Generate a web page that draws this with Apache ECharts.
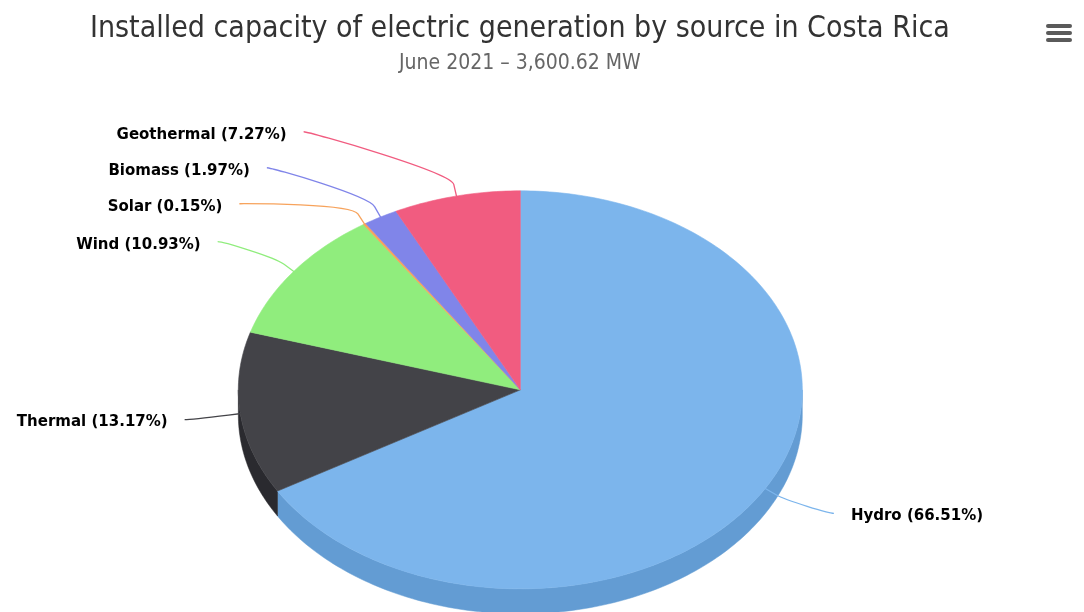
<!DOCTYPE html>
<html>
<head>
<meta charset="utf-8">
<script src="https://cdn.jsdelivr.net/npm/echarts/dist/echarts.min.js"></script>
<style>
html,body{margin:0;padding:0;background:#ffffff;}
#chart{width:1084px;height:612px;}
</style>
</head>
<body>
<div id="chart"></div>
<script>
// ---------- data ----------
const categories = ['Hydro', 'Thermal', 'Wind', 'Solar', 'Biomass', 'Geothermal'];
const shares = [66.51, 13.17, 10.93, 0.15, 1.97, 7.27];
const sliceColors = ['#7cb5ec', '#434348', '#90ed7d', '#f7a35c', '#8085e9', '#f15c80'];
const titleText = 'Installed capacity of electric generation by source in Costa Rica';
const subtitleText = 'June 2021 \u2013 3,600.62 MW';

// ---------- geometry / style ----------
const GEO = { cxF: 0.48, cyF: 0.637, rx: 282, ry: 199, depth: 25, labelDy: 50, labelR: 337, gap: 17, spacing: 36 };
const LABEL_FONT = 'bold 15px "DejaVu Sans", sans-serif';

function darken(hex, amt) {
  const n = parseInt(hex.slice(1), 16);
  const c = [(n >> 16) & 255, (n >> 8) & 255, n & 255].map(v => Math.max(0, Math.round(v - 255 * amt)));
  return 'rgb(' + c.join(',') + ')';
}

let layoutCache = null;
function computeLayout(W, H) {
  if (layoutCache && layoutCache.W === W && layoutCache.H === H) return layoutCache;
  const cx = W * GEO.cxF, cy = H * GEO.cyF;
  const total = shares.reduce((a, b) => a + b, 0);
  const slices = [];
  let acc = 0;
  shares.forEach((v, i) => {
    const a0 = acc / total * Math.PI * 2;
    acc += v;
    const a1 = acc / total * Math.PI * 2;
    const mid = (a0 + a1) / 2;
    slices.push({ i, a0, a1, mid, left: Math.sin(mid) < 0,
      natY: cy - (GEO.ry + GEO.labelDy) * Math.cos(mid) });
  });
  // resolve label overlaps per side (cluster distribution)
  [true, false].forEach(isLeft => {
    const items = slices.filter(s => s.left === isLeft).sort((a, b) => a.natY - b.natY);
    let clusters = items.map(s => ({ members: [s], center: s.natY }));
    let changed = true;
    while (changed) {
      changed = false;
      for (let k = 0; k < clusters.length - 1; k++) {
        const A = clusters[k], B = clusters[k + 1];
        const aEnd = A.center + (A.members.length - 1) / 2 * GEO.spacing;
        const bStart = B.center - (B.members.length - 1) / 2 * GEO.spacing;
        if (bStart - aEnd < GEO.spacing) {
          const members = A.members.concat(B.members);
          const center = members.reduce((s, m) => s + m.natY, 0) / members.length;
          clusters.splice(k, 2, { members, center });
          changed = true;
          break;
        }
      }
    }
    clusters.forEach(c => {
      c.members.forEach((m, j) => {
        m.ly = c.center + (j - (c.members.length - 1) / 2) * GEO.spacing;
      });
    });
  });
  slices.forEach(s => {
    const dy = s.ly - cy;
    const dx = Math.sqrt(Math.max(0, GEO.labelR * GEO.labelR - dy * dy));
    s.lx = s.left ? cx - dx : cx + dx;
  });
  layoutCache = { W, H, cx, cy, slices };
  return layoutCache;
}

function pt(L, a, dz, extra) {
  const e = extra || 0;
  return [L.cx + (GEO.rx + e) * Math.sin(a), L.cy - (GEO.ry + e) * Math.cos(a) + (dz || 0)];
}

function arcPoints(L, a0, a1, dz) {
  const steps = Math.max(2, Math.ceil((a1 - a0) / (Math.PI / 180)));
  const pts = [];
  for (let k = 0; k <= steps; k++) pts.push(pt(L, a0 + (a1 - a0) * k / steps, dz));
  return pts;
}

function renderItem(params, api) {
  const L = computeLayout(api.getWidth(), api.getHeight());
  const idx = params.dataIndex;
  const s = L.slices[idx];
  const color = sliceColors[idx];
  const children = [];
  // outer side (front half only)
  const f0 = Math.max(s.a0, Math.PI / 2), f1 = Math.min(s.a1, Math.PI * 1.5);
  if (f1 > f0) {
    const topArc = arcPoints(L, f0, f1, 0);
    const botArc = arcPoints(L, f0, f1, GEO.depth).reverse();
    children.push({ type: 'polygon', z2: 1, shape: { points: topArc.concat(botArc) },
      style: { fill: darken(color, 0.1), stroke: darken(color, 0.1), lineWidth: 0.5 } });
  }
  // top face
  const top = [[L.cx, L.cy]].concat(arcPoints(L, s.a0, s.a1, 0));
  children.push({ type: 'polygon', z2: 10, shape: { points: top },
    style: { fill: color, stroke: color, lineWidth: 0.6 } });
  // connector
  const touch = pt(L, s.mid, 0, -1);
  const brk = pt(L, s.mid, 0, 12);
  const sx = s.lx, sy = s.ly;
  const c1x = sx + (s.left ? 5 : -5);
  const pd = 'M' + sx + ' ' + sy + ' C' + c1x + ' ' + sy + ' ' + (2 * brk[0] - touch[0]) + ' ' + (2 * brk[1] - touch[1]) +
    ' ' + brk[0] + ' ' + brk[1] + ' L' + touch[0] + ' ' + touch[1];
  children.push({ type: 'path', z2: 20, shape: { pathData: pd },
    style: { fill: null, stroke: color, lineWidth: 1.3 } });
  // label
  const pct = api.value(0).toFixed(2);
  children.push({ type: 'text', z2: 30,
    style: { text: categories[idx] + ' (' + pct + '%)', x: s.left ? sx - GEO.gap : sx + GEO.gap, y: sy + 3,
      align: s.left ? 'right' : 'left', verticalAlign: 'middle', font: LABEL_FONT, fill: '#000000' } });
  return { type: 'group', children };
}

const chart = echarts.init(document.getElementById('chart'), null, { renderer: 'canvas' });
chart.setOption({
  backgroundColor: '#ffffff',
  animation: false,
  title: {
    text: titleText,
    subtext: subtitleText,
    left: '47.5%',
    textAlign: 'center',
    top: 9,
    itemGap: 9,
    textStyle: { fontFamily: '"Liberation Sans Narrow", "DejaVu Sans Condensed", sans-serif', fontSize: 30, fontWeight: 'normal', color: '#333333' },
    subtextStyle: { fontFamily: '"Liberation Sans Narrow", "DejaVu Sans Condensed", sans-serif', fontSize: 21, color: '#666666' }
  },
  graphic: [
    { type: 'rect', right: 12, top: 24, shape: { width: 26, height: 4, r: 2 }, style: { fill: '#5a5a5a' } },
    { type: 'rect', right: 12, top: 31, shape: { width: 26, height: 4, r: 2 }, style: { fill: '#5a5a5a' } },
    { type: 'rect', right: 12, top: 38, shape: { width: 26, height: 4, r: 2 }, style: { fill: '#5a5a5a' } }
  ],
  series: [{
    type: 'custom',
    coordinateSystem: 'none',
    renderItem: renderItem,
    data: shares.map((v, i) => ({ name: categories[i], value: [v] }))
  }]
});
</script>
</body>
</html>
